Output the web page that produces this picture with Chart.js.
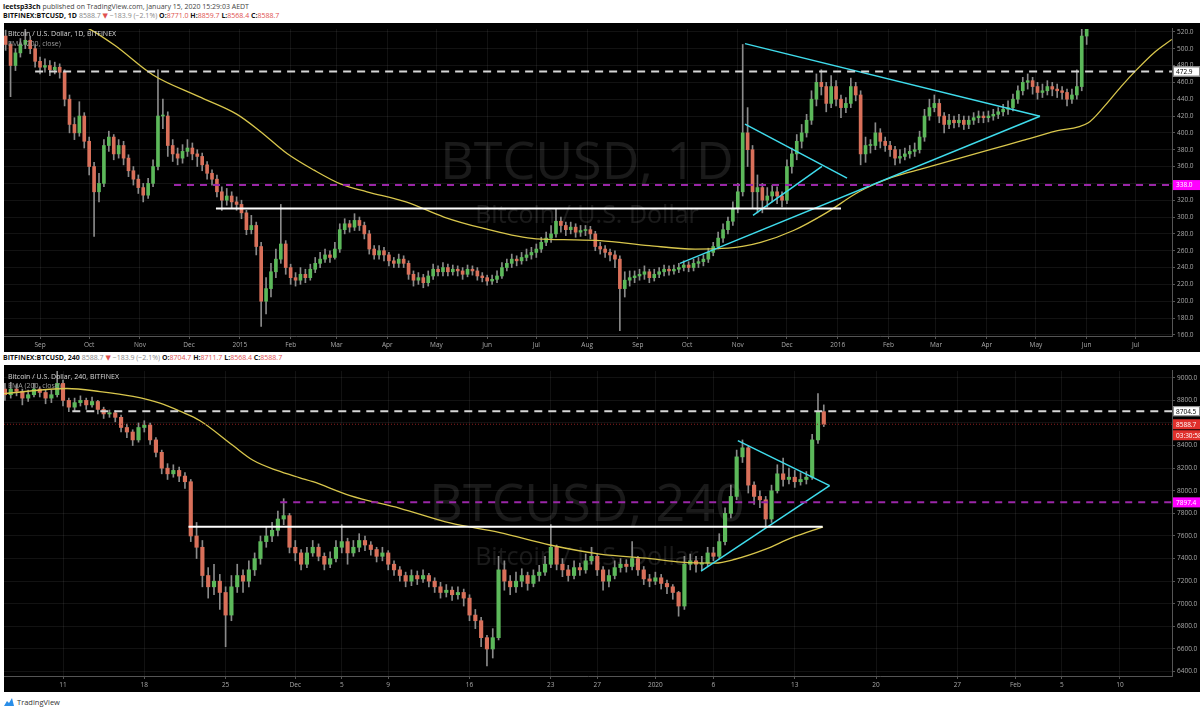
<!DOCTYPE html>
<html>
<head>
<meta charset="utf-8">
<script src="https://cdn.jsdelivr.net/npm/chart.js@4.4.1/dist/chart.umd.min.js"></script>
<style>
  body { margin: 0; width: 1200px; height: 712px; background: #fff; position: relative; overflow: hidden;
         font-family: "Open Sans", "DejaVu Sans", sans-serif; }
  .hd { position: absolute; left: 3px; font-size: 7px; line-height: 9px; color: #444; white-space: nowrap; }
  .hd b { color: #111; }
  .red { color: #e0514f; }
  .gr { color: #888; }
  .panel { position: absolute; left: 4px; width: 1196px; background: #000; }
  .panel canvas { display: block; }
  .lg { position: absolute; left: 4px; font-size: 7px; line-height: 9px; color: #d8d8d8; white-space: nowrap; }
  .lg.ema { color: #9a9a9a; }
  .ft { position: absolute; left: 3px; top: 697px; font-size: 7.5px; color: #333; display: flex; align-items: center; gap: 2px; }
</style>
</head>
<body>

<div class="hd" style="top:2px"><b>leetsp33ch</b> published on TradingView.com, January 15, 2020 15:29:03 AEDT</div>
<div class="hd" style="top:11px"><b>BITFINEX:BTCUSD, 1D</b> <span class="gr">8588.7</span> <span class="red">▼</span> <span class="gr">−183.9 (−2.1%)</span> <b>O:</b><span class="red">8771.0</span> <b>H:</b><span class="red">8859.7</span> <b>L:</b><span class="red">8568.4</span> <b>C:</b><span class="red">8588.7</span></div>

<div class="panel" style="top:23px;height:329px">
  <canvas id="dayChart" width="1196" height="329"></canvas>
  <div class="lg" style="top:6px">Bitcoin / U.S. Dollar, 1D, BITFINEX</div>
  <div class="lg ema" style="top:16px">EMA (200, close)</div>
</div>

<div class="hd" style="top:353px"><b>BITFINEX:BTCUSD, 240</b> <span class="gr">8588.7</span> <span class="red">▼</span> <span class="gr">−183.9 (−2.1%)</span> <b>O:</b><span class="red">8704.7</span> <b>H:</b><span class="red">8711.7</span> <b>L:</b><span class="red">8568.4</span> <b>C:</b><span class="red">8588.7</span></div>

<div class="panel" style="top:365px;height:327px">
  <canvas id="h4Chart" width="1196" height="327"></canvas>
  <div class="lg" style="top:7px">Bitcoin / U.S. Dollar, 240, BITFINEX</div>
  <div class="lg ema" style="top:16px">EMA (200, close)</div>
</div>

<div class="ft">
  <svg width="12" height="10" viewBox="0 0 12 10"><path d="M1 9 L4 4 L6 6 L9 1 L11 9 Z" fill="#2a8ee8"/></svg>
  <span>TradingView</span>
</div>

<script>
// ---- daily chart (days counted from 1 Sep 2014), one candle per 3 days ----
const dayStart = -21, dayStep = 3, dayOpen0 = 515;
const dayClose = [
  505,480,495,505,510,500,485,478,480,475, 478,472,440,410,400,420,390,360,330,340,
  385,395,375,385,370,355,345,335,326,340, 360,420,420,385,375,370,378,382,375,372,
  362,352,345,330,320,325,318,315,305,285, 290,265,200,215,235,250,268,240,228,225,
  232,228,238,245,250,255,252,262,285,292, 288,296,290,280,262,255,260,255,248,245,
  250,245,232,225,228,222,230,238,235,240, 235,238,236,232,238,236,230,228,224,226,
  230,240,245,250,248,252,255,258,262,270, 275,280,295,290,285,288,282,284,285,280,
  265,262,258,255,250,215,225,228,230,232, 235,228,232,235,238,236,238,240,243,240,
  245,247,250,258,265,275,285,295,310,330, 400,380,330,335,320,325,330,325,320,360,
  375,390,400,415,440,460,455,435,455,440, 430,435,455,445,375,385,385,400,390,385,
  380,370,372,375,378,380,395,420,430,435, 420,410,415,412,415,410,415,418,420,418,
  420,422,425,428,430,440,450,460,462,455, 448,450,455,452,450,448,440,445,455,515,
  540];
const dayHigh = [
  522,508,500,512,524,515,505,490,488,486, 484,482,475,445,418,437,424,395,365,352,
  392,402,398,392,390,374,360,350,340,346, 368,475,440,425,392,382,386,392,388,380,
  376,366,356,350,336,334,330,324,320,308, 302,294,270,228,245,262,315,272,244,234,
  240,238,244,252,258,262,260,270,292,298, 296,304,300,294,284,266,266,264,258,252,
  256,254,248,236,234,232,236,244,242,246, 244,243,242,240,243,242,240,234,231,231,
  236,246,250,256,254,258,262,264,268,276, 282,290,310,300,294,294,292,290,290,289,
  283,270,266,262,260,254,235,236,236,238, 242,238,238,240,243,242,243,245,248,247,
  250,252,255,263,270,282,292,300,318,340, 505,430,385,350,340,335,338,336,330,368,
  382,398,410,422,450,470,475,460,468,462, 445,442,465,460,450,395,392,412,405,395,
  390,384,380,382,385,388,402,428,440,445, 440,424,422,420,422,420,420,424,426,425,
  426,428,430,434,438,446,456,466,470,466, 460,458,462,460,458,455,452,452,475,530,
  560];
const dayLow = [
  498,443,474,490,500,494,478,470,472,468, 470,465,432,400,392,396,382,350,277,318,
  336,378,368,370,362,348,338,328,318,322, 336,356,405,372,366,362,364,372,368,360,
  355,345,338,324,308,314,310,308,298,279, 280,255,170,185,205,228,245,232,220,218,
  220,222,225,234,240,246,246,250,258,280, 282,284,284,274,256,250,250,248,242,240,
  240,240,226,218,220,216,218,226,230,230, 230,231,230,226,229,231,225,223,219,220,
  222,227,236,240,242,244,248,250,252,258, 266,270,276,282,278,280,276,277,278,274,
  260,256,252,248,240,165,205,218,222,225, 226,222,224,228,230,231,232,234,236,235,
  236,240,242,246,254,262,270,280,290,305, 325,360,310,305,305,312,318,316,312,316,
  352,368,382,395,410,432,445,425,430,432, 418,424,430,438,362,365,376,380,382,378,
  372,362,364,368,370,372,376,390,415,425, 412,400,405,406,407,404,405,410,412,412,
  413,415,417,420,422,426,435,445,452,446, 440,442,445,444,442,440,432,435,440,450,
  505];
const dayEmaX = [-22,10,30.5,45.8,69,97,120.3,134.3,150.8,167.3,183.8,199.6,223.4,246.6,269.8,302.8,326,342,
  372,400,420,440,460,480,500,520,540,560,580,600,620,640,650,660,670,680,691];
const dayEma = [570,540,523,503.7,468.7,443,422,402,375.5,355.7,339,330,318,300,287,274,273,272,
  266,262,263,270,284,305,330,347,358,369,380,391,402,412,432,455,476,495,511];
const dayTicks = [0,30,61,91,122,153,181,212,242,273,303,334,365,395,426,456,487,518,547,578,608,639,669];
const dayTickLabels = ['Sep','Oct','Nov','Dec','2015','Feb','Mar','Apr','May','Jun','Jul','Aug',
  'Sep','Oct','Nov','Dec','2016','Feb','Mar','Apr','May','Jun','Jul'];
const dayPrices = [160,180,200,220,240,260,280,300,320,340,360,380,400,420,440,460,480,500,520];
// drawn levels and trend lines: [x0, y0, x1, y1] in days / price
const dayDashWhite = [-3, 472.9, 691.1, 472.9];
const dayDashPurple = [81.8, 338.0, 691.1, 338.0];
const daySupport = [107.4, 310.3, 489, 310.3];
const dayTrend = [
  [430.4, 506, 610.5, 419.8],
  [390.7, 245, 610.5, 419.8],
  [430.4, 410.4, 492.7, 346.3],
  [435.3, 302, 477.4, 360.3]
];

// ---- 240 chart (days counted from 1 Nov 2019), one candle per 12 hours ----
const h4Start = 5, h4Step = 0.5, h4Open0 = 8900;
const h4Close = [
  8850,8900,8880,8820,8850,8900,8870,8820,8850,8950, 8800,8740,8780,8800,8760,8790,8720,8680,8690,8650,
  8560,8520,8450,8560,8580,8450,8340,8200,8150,8180, 8130,8080,7600,7500,7250,7150,7200,7100,6900,7150,
  7250,7200,7300,7400,7550,7600,7650,7750,7780,7500, 7450,7350,7450,7500,7420,7350,7400,7500,7550,7450,
  7500,7560,7520,7480,7420,7450,7350,7300,7250,7200, 7250,7220,7250,7200,7150,7100,7120,7080,7100,7050,
  6900,6850,6700,6600,6700,7300,7200,7150,7200,7250, 7180,7250,7280,7350,7500,7350,7300,7250,7320,7300,
  7380,7420,7300,7200,7250,7320,7350,7330,7400,7300, 7220,7200,7230,7180,7150,7100,6980,7350,7380,7350,
  7360,7450,7420,7550,7800,7950,8300,8380,8050,7950, 7920,7750,8000,8150,8100,8120,8080,8100,8120,8450,
  8700,8588.7];
const h4High = [
  8950,8960,8940,8900,8890,8950,8920,8890,8890,9100, 8980,8820,8820,8840,8820,8830,8800,8740,8714,8710,
  8670,8590,8540,8600,8620,8600,8470,8360,8240,8230, 8210,8160,8100,7720,7560,7320,7350,7260,7150,7250,
  7350,7300,7380,7450,7600,7680,7720,7820,7930,7800, 7560,7480,7500,7560,7530,7450,7460,7560,7700,7580,
  7560,7620,7600,7550,7500,7500,7470,7380,7330,7280, 7300,7290,7300,7270,7230,7190,7170,7150,7150,7130,
  7080,6950,6880,6720,6780,7420,7380,7250,7280,7310, 7280,7300,7340,7420,7700,7520,7400,7340,7380,7360,
  7440,7500,7440,7330,7300,7380,7400,7390,7550,7420, 7330,7260,7280,7260,7210,7170,7110,7420,7440,7420,
  7420,7500,7500,7620,7850,8050,8360,8450,8400,8080, 8000,7950,8050,8230,8290,8200,8180,8160,8170,8500,
  8860,8760];
const h4Low = [
  8800,8820,8840,8760,8790,8830,8830,8770,8780,8830, 8750,8700,8710,8750,8720,8740,8680,8640,8650,8610,
  8520,8470,8400,8430,8520,8410,8300,8150,8100,8120, 8080,8020,7550,7400,7150,7050,7080,6950,6620,6850,
  7100,7100,7150,7250,7350,7500,7550,7600,7700,7450, 7380,7300,7320,7420,7380,7300,7320,7370,7450,7350,
  7420,7460,7470,7430,7370,7380,7300,7250,7200,7150, 7160,7170,7190,7150,7100,7050,7060,7030,7040,6980,
  6850,6780,6620,6450,6520,6680,7120,7080,7100,7150, 7120,7150,7200,7250,7320,7300,7240,7200,7220,7250,
  7270,7350,7250,7120,7150,7220,7280,7280,7300,7250, 7170,7150,7170,7130,7090,7040,6890,6950,7300,7280,
  7300,7330,7380,7400,7520,7760,7920,8250,7980,7880, 7850,7690,7720,7980,8040,8060,8030,8050,8060,8100,
  8420,8568.4];
const h4EmaX = [4.92,10.34,13.19,16.03,18.35,20.07,21.8,24.64,26.36,28.42,30.4,31.52,34.71,39.01,43.32,
  47.62,51.93,56.23,60.54,63.21,66.13,67.86,70.44,72.76,75.43];
const h4Ema = [8860,8905,8878,8835,8775,8704,8620,8400,8270,8180,8115,8080,7958,7845,7715,
  7630,7520,7440,7400,7368,7360,7394,7481,7585,7681];
const h4Ticks = [10,17,24,30,34,38,45,52,56,61,66,73,80,87,92,96,101];
const h4TickLabels = ['11','18','25','Dec','5','9','16','23','27','2020','6','13','20','27','Feb','5','10'];
const h4Prices = [6400,6600,6800,7000,7200,7400,7600,7800,8000,8200,8400,8600,8800,9000];
const h4DashWhite = [10.8, 8704.5, 105.48, 8704.5];
const h4LastPrice = [4.92, 8588.7, 105.48, 8588.7];
const h4DashPurple = [28.7, 7897.4, 105.48, 7897.4];
const h4Support = [20.8, 7681, 75.4, 7681];
const h4Trend = [
  [68.1, 8444, 76.0, 8045],
  [64.93, 7290, 76.0, 8045]
];

const UP = '#5cb85a', DOWN = '#d9705a', WICK = '#8a8a8a';
const GRID = 'rgba(255,255,255,0.07)', AXIS_TXT = '#a8a8a8';
Chart.defaults.font.family = '"Open Sans", "DejaVu Sans", sans-serif';

function candles(start, step, open0, closes, highs, lows, body) {
  const wicks = [], bodies = [], cols = [];
  closes.forEach((c, i) => {
    const o = i ? closes[i - 1] : open0;
    const x = start + step * i;
    wicks.push({ x: x, y: [lows[i], highs[i]] });
    bodies.push({ x: x, y: [o, c] });
    cols.push(c >= o ? UP : DOWN);
  });
  return [
    { type: 'bar', data: wicks, backgroundColor: WICK, barThickness: 1, grouped: false, order: 3 },
    { type: 'bar', data: bodies, backgroundColor: cols, barThickness: body, grouped: false, minBarLength: 1, order: 2 }
  ];
}

function seg(s, color, width, dash) {
  return { type: 'line', data: [{ x: s[0], y: s[1] }, { x: s[2], y: s[3] }], borderColor: color,
    borderWidth: width, borderDash: dash || [], pointRadius: 0, fill: false, order: 0 };
}

function emaLine(xs, ys) {
  return { type: 'line', data: xs.map((x, i) => ({ x: x, y: ys[i] })), borderColor: '#d8c64c',
    borderWidth: 1.3, pointRadius: 0, fill: false, tension: 0.4, cubicInterpolationMode: 'monotone', order: 1 };
}

const overlay = {
  id: 'overlay',
  beforeDatasetsDraw(chart, args, o) {
    const c = chart.ctx, a = chart.chartArea;
    c.save();
    c.fillStyle = 'rgba(255,255,255,0.10)';
    c.textAlign = 'center';
    c.font = '52px "Open Sans"';
    c.fillText(o.mark, 583, a.top + 150);
    c.font = '25px "Open Sans"';
    c.fillText('Bitcoin / U.S. Dollar', 583, a.top + 194);
    c.restore();
  },
  afterDraw(chart, args, o) {
    const c = chart.ctx, a = chart.chartArea, y = chart.scales.y;
    c.save();
    c.font = '6.5px "Open Sans"';
    c.textBaseline = 'middle';
    o.tags.forEach(t => {
      const py = y.getPixelForValue(t.v) + (t.dy || 0);
      c.fillStyle = t.bg;
      c.fillRect(a.right + 1, py - 5, 27, 10);
      if (t.line) { c.strokeStyle = '#888'; c.lineWidth = 1; c.strokeRect(a.right + 1.5, py - 4.5, 26, 9); }
      c.fillStyle = t.fg;
      c.fillText(t.text || t.v.toFixed(1), a.right + 4, py + 0.5);
    });
    c.restore();
  }
};

function options(xMin, xMax, ticksX, labelsX, yMin, yMax, ticksY, mark, tags) {
  return {
    responsive: false, animation: false, events: [],
    layout: { padding: 0 },
    plugins: { legend: { display: false }, tooltip: { enabled: false }, overlay: { mark: mark, tags: tags } },
    scales: {
      x: {
        type: 'linear', min: xMin, max: xMax, offset: false,
        afterBuildTicks: s => { s.ticks = ticksX.map(v => ({ value: v })); },
        afterFit: s => { s.height = 16; },
        ticks: { callback: (v, i) => labelsX[i], color: AXIS_TXT, font: { size: 6.5 }, maxRotation: 0, autoSkip: false, padding: 2 },
        grid: { color: GRID, offset: false, tickLength: 3, tickColor: '#555' },
        border: { color: '#555' }
      },
      y: {
        position: 'right', min: yMin, max: yMax,
        afterBuildTicks: s => { s.ticks = ticksY.map(v => ({ value: v })); },
        afterFit: s => { s.width = 28; },
        ticks: { callback: v => v.toFixed(1), color: AXIS_TXT, font: { size: 6.5 }, padding: 2 },
        grid: { color: GRID, tickLength: 3, tickColor: '#555' },
        border: { color: '#555' }
      }
    }
  };
}

new Chart(document.getElementById('dayChart'), {
  type: 'bar',
  data: {
    datasets: [
      ...candles(dayStart, dayStep, dayOpen0, dayClose, dayHigh, dayLow, 3),
      emaLine(dayEmaX, dayEma),
      seg(dayDashWhite, '#d6d6d6', 2, [8, 6]),
      seg(dayDashPurple, '#9b27a8', 2, [7, 6]),
      seg(daySupport, '#ffffff', 2),
      ...dayTrend.map(t => seg(t, '#3fdcec', 1.5))
    ]
  },
  options: options(-22, 691.1, dayTicks, dayTickLabels, 158.7, 523.5, dayPrices, 'BTCUSD, 1D', [
    { v: 472.9, bg: '#ffffff', fg: '#000', line: true },
    { v: 338.0, bg: '#ff00ff', fg: '#fff' }
  ]),
  plugins: [overlay]
});

new Chart(document.getElementById('h4Chart'), {
  type: 'bar',
  data: {
    datasets: [
      ...candles(h4Start, h4Step, h4Open0, h4Close, h4High, h4Low, 3.5),
      emaLine(h4EmaX, h4Ema),
      seg(h4DashWhite, '#d6d6d6', 2, [8, 6]),
      seg(h4LastPrice, '#8e1f1f', 1, [1, 2]),
      seg(h4DashPurple, '#9b27a8', 2, [7, 6]),
      seg(h4Support, '#ffffff', 2),
      ...h4Trend.map(t => seg(t, '#3fdcec', 1.5))
    ]
  },
  options: options(4.92, 105.48, h4Ticks, h4TickLabels, 6360.8, 9060.8, h4Prices, 'BTCUSD, 240', [
    { v: 8704.5, bg: '#ffffff', fg: '#000', line: true },
    { v: 8588.7, bg: '#e0302c', fg: '#fff' },
    { v: 8588.7, dy: 11, bg: '#e0302c', fg: '#fff', text: '03:30:58' },
    { v: 7897.4, bg: '#ff00ff', fg: '#fff' }
  ]),
  plugins: [overlay]
});
</script>
</body>
</html>
